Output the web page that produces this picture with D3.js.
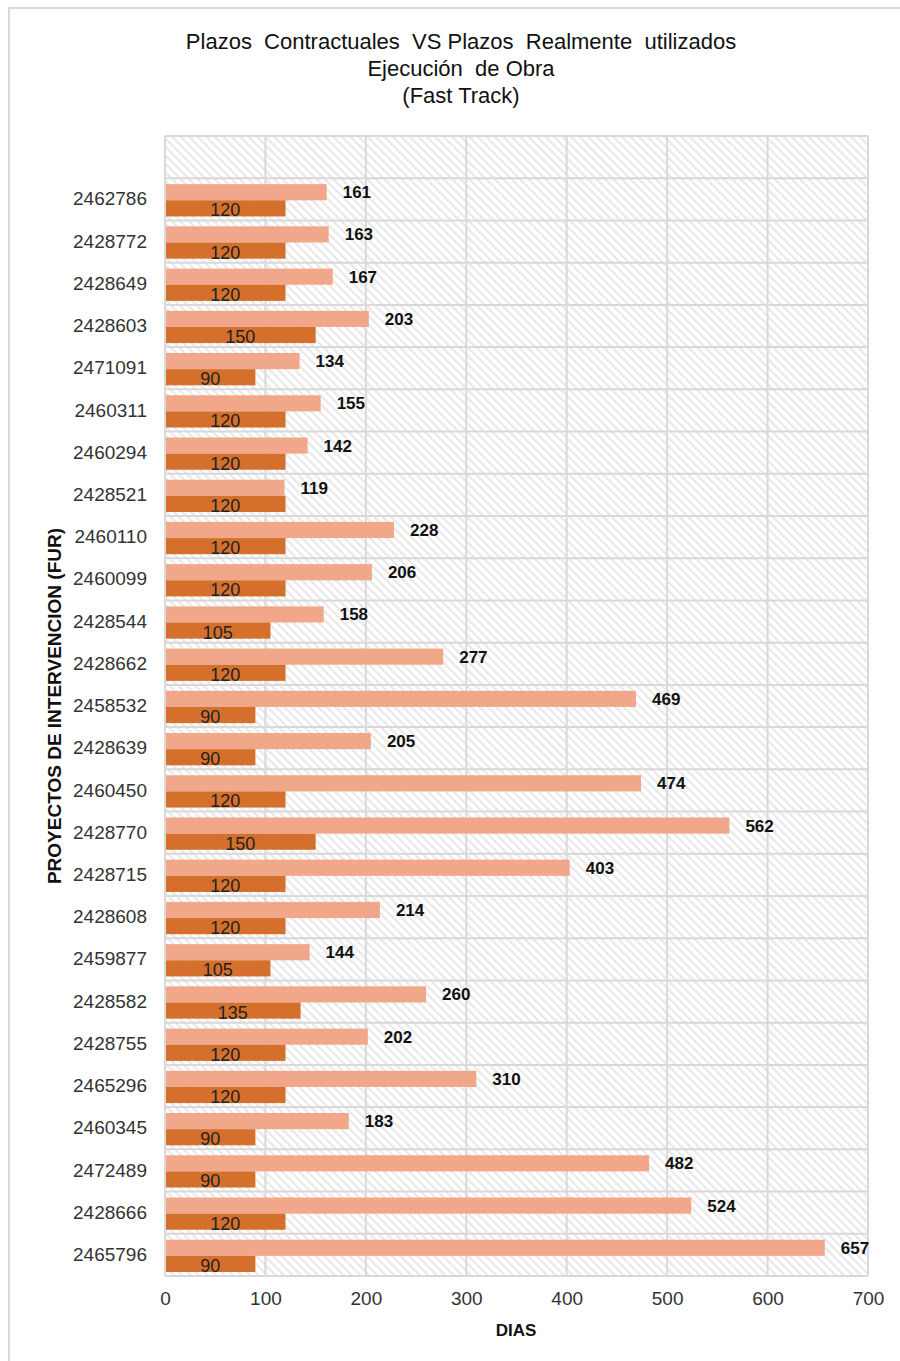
<!DOCTYPE html>
<html>
<head>
<meta charset="utf-8">
<script src="https://cdn.jsdelivr.net/npm/d3@7"></script>
<style>
  body { margin: 0; background: #fff; }
  svg { font-family: "Liberation Sans", Arial, sans-serif; }
</style>
</head>
<body>
<div id="chart"></div>
<script>
// rows from top to bottom (first row of the plot is left empty)
const proyectos = ["2462786", "2428772", "2428649", "2428603", "2471091", "2460311", "2460294", "2428521",
  "2460110", "2460099", "2428544", "2428662", "2458532", "2428639", "2460450", "2428770", "2428715",
  "2428608", "2459877", "2428582", "2428755", "2465296", "2460345", "2472489", "2428666", "2465796"]
const plazoReal = [161, 163, 167, 203, 134, 155, 142, 119, 228, 206, 158, 277, 469, 205, 474, 562, 403,
  214, 144, 260, 202, 310, 183, 482, 524, 657]
const plazoContractual = [120, 120, 120, 150, 90, 120, 120, 120, 120, 120, 105, 120, 90, 90, 120, 150, 120,
  120, 105, 135, 120, 120, 90, 90, 120, 90]
const xTicks = [0, 100, 200, 300, 400, 500, 600, 700]
const titleLines = ["Plazos  Contractuales  VS Plazos  Realmente  utilizados", "Ejecución  de Obra", "(Fast Track)"]

const width = 900, height = 1361
const margin = {top: 136, right: 32, bottom: 85, left: 165}

const rows = [""].concat(proyectos)
const data = proyectos.map((p, i) => ({id: p, real: plazoReal[i], contractual: plazoContractual[i]}))

const svg = d3.select("#chart").append("svg")
  .attr("width", width)
  .attr("height", height)

// hatch for the plot background
const defs = svg.append("defs")
defs.append("pattern")
  .attr("id", "hatch")
  .attr("patternUnits", "userSpaceOnUse")
  .attr("width", 6)
  .attr("height", 6)
  .attr("patternTransform", "rotate(-45)")
  .append("rect")
  .attr("x", 0).attr("y", 0)
  .attr("width", 2.2).attr("height", 6)
  .attr("fill", "#e8e8e8")

// outer frame
svg.append("rect")
  .attr("x", 9).attr("y", 8)
  .attr("width", width - 8).attr("height", height)
  .attr("fill", "none")
  .attr("stroke", "#d9d9d9")
  .attr("stroke-width", 2)

const x = d3.scaleLinear()
  .domain([0, 700])
  .range([margin.left, width - margin.right - 0])

const y = d3.scaleBand()
  .domain(rows)
  .range([margin.top, height - margin.bottom])

const inner = d3.scaleBand()
  .domain(["real", "contractual"])
  .range([y.bandwidth() * 0.14, y.bandwidth() * 0.905])

// background
svg.append("rect")
  .attr("x", x(0)).attr("y", y.range()[0])
  .attr("width", x(700) - x(0))
  .attr("height", y.range()[1] - y.range()[0])
  .attr("fill", "#fff")
svg.append("rect")
  .attr("x", x(0)).attr("y", y.range()[0])
  .attr("width", x(700) - x(0))
  .attr("height", y.range()[1] - y.range()[0])
  .attr("fill", "url(#hatch)")

// gridlines
const grid = svg.append("g")
  .attr("stroke", "#d9d9d9")
  .attr("stroke-width", 2)

grid.selectAll("line.v")
  .data(xTicks)
  .join("line")
  .attr("class", "v")
  .attr("x1", d => x(d)).attr("x2", d => x(d))
  .attr("y1", y.range()[0]).attr("y2", y.range()[1])

grid.selectAll("line.h")
  .data(rows.concat(["__end"]))
  .join("line")
  .attr("class", "h")
  .attr("x1", x(0)).attr("x2", x(700))
  .attr("y1", (d, i) => y.range()[0] + i * y.step())
  .attr("y2", (d, i) => y.range()[0] + i * y.step())

// bars
const groups = svg.append("g")
  .selectAll("g")
  .data(data)
  .join("g")
  .attr("transform", d => `translate(0,${y(d.id)})`)

groups.append("rect")
  .attr("x", x(0) + 1)
  .attr("y", inner("real"))
  .attr("width", d => x(d.real) - x(0) - 1)
  .attr("height", inner.bandwidth())
  .attr("fill", "#f1a88a")

groups.append("rect")
  .attr("x", x(0) + 1)
  .attr("y", inner("contractual"))
  .attr("width", d => x(d.contractual) - x(0) - 1)
  .attr("height", inner.bandwidth())
  .attr("fill", "#d4702c")

// value labels
groups.append("text")
  .attr("x", d => x(d.real) + 16)
  .attr("y", inner("real") + inner.bandwidth() / 2 + 6)
  .attr("font-size", 17)
  .attr("font-weight", "bold")
  .attr("fill", "#111")
  .text(d => d.real)

groups.append("text")
  .attr("x", d => (x(0) + x(d.contractual)) / 2)
  .attr("y", inner("contractual") + inner.bandwidth() / 2 + 8)
  .attr("text-anchor", "middle")
  .attr("font-size", 18)
  .attr("fill", "#222")
  .text(d => d.contractual)

// axes
const xAxis = svg.append("g")
  .attr("transform", `translate(0,${y.range()[1]})`)
  .call(d3.axisBottom(x).tickValues(xTicks).tickSize(0).tickPadding(16))
xAxis.select(".domain").remove()
xAxis.selectAll("text")
  .attr("font-size", 19)
  .attr("font-family", "Liberation Sans, Arial, sans-serif")
  .attr("fill", "#333")

const yAxis = svg.append("g")
  .attr("transform", `translate(${margin.left},0)`)
  .call(d3.axisLeft(y).tickSize(0).tickPadding(18))
yAxis.select(".domain").remove()
yAxis.selectAll("text")
  .attr("font-size", 19)
  .attr("font-family", "Liberation Sans, Arial, sans-serif")
  .attr("fill", "#333")

// titles
svg.append("g")
  .selectAll("text")
  .data(titleLines)
  .join("text")
  .attr("x", 461)
  .attr("y", (d, i) => 49 + i * 27)
  .attr("text-anchor", "middle")
  .attr("font-size", 22)
  .attr("fill", "#111")
  .style("white-space", "pre")
  .text(d => d)

svg.append("text")
  .attr("x", 516)
  .attr("y", 1336)
  .attr("text-anchor", "middle")
  .attr("font-size", 17)
  .attr("font-weight", "bold")
  .attr("fill", "#111")
  .text("DIAS")

svg.append("text")
  .attr("transform", `translate(61,${(y.range()[0] + y.range()[1]) / 2}) rotate(-90)`)
  .attr("text-anchor", "middle")
  .attr("font-size", 19)
  .attr("font-weight", "bold")
  .attr("fill", "#111")
  .text("PROYECTOS DE INTERVENCION (FUR)")
</script>
</body>
</html>
